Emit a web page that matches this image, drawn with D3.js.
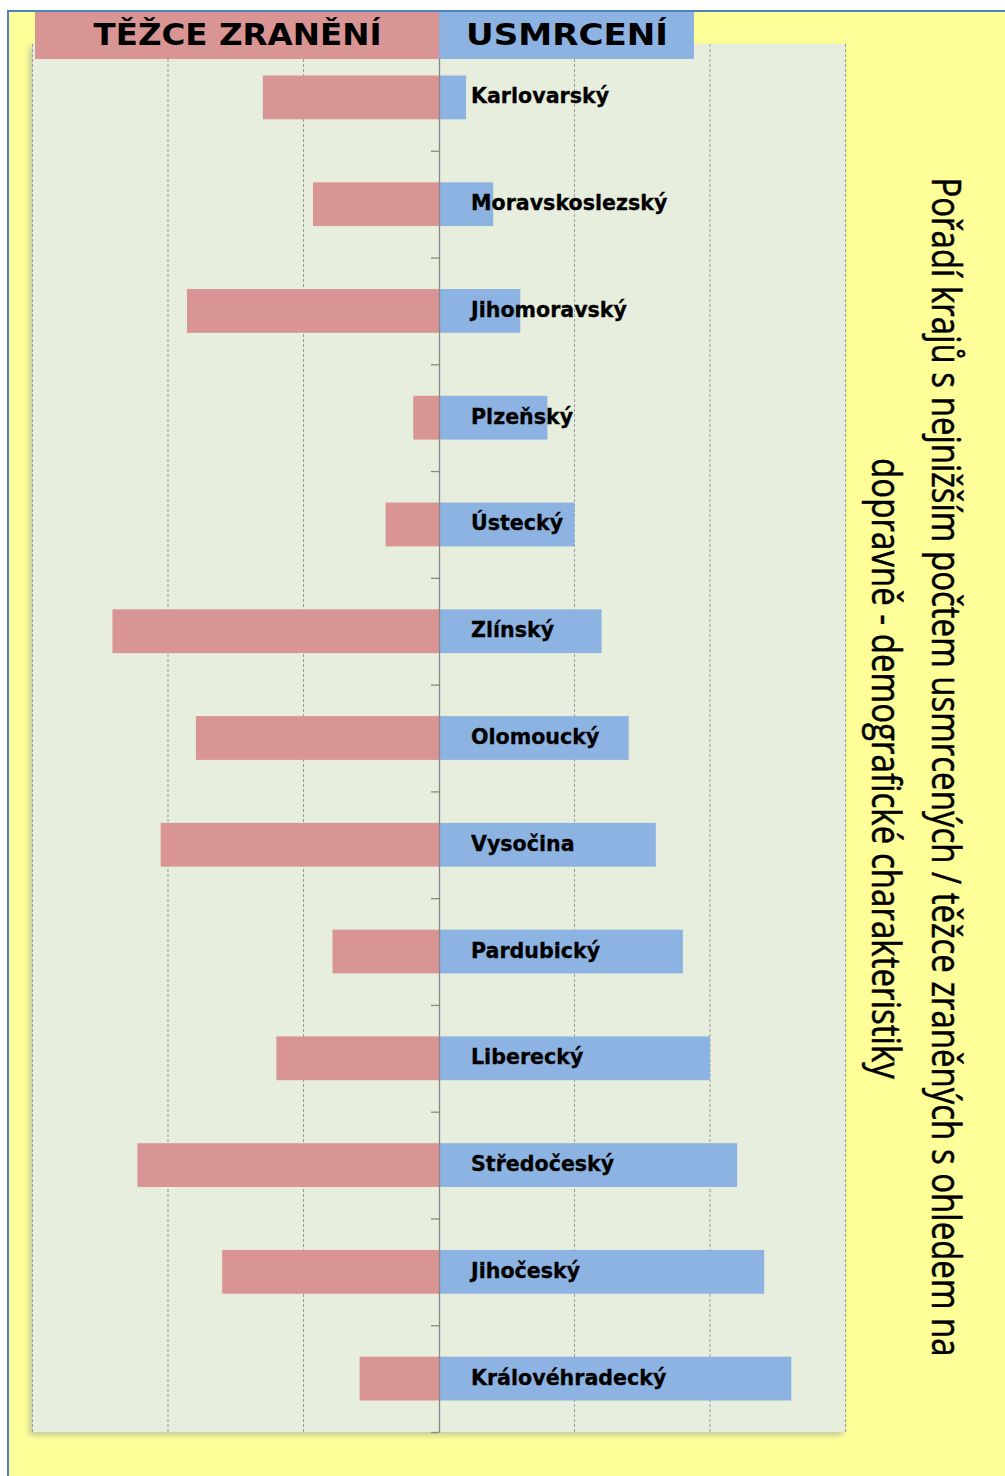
<!DOCTYPE html>
<html>
<head>
<meta charset="utf-8">
<script src="https://cdn.jsdelivr.net/npm/d3@7"></script>
<style>
  html, body { margin: 0; padding: 0; background: #ffffff; }
  svg { display: block; }
</style>
</head>
<body>
<div id="chart"></div>
<script>
// ---- data ----
const regions = ["Karlovarský", "Moravskoslezský", "Jihomoravský", "Plzeňský", "Ústecký", "Zlínský",
  "Olomoucký", "Vysočina", "Pardubický", "Liberecký", "Středočeský", "Jihočeský", "Královéhradecký"];
const killedRank = [1, 2, 3, 4, 5, 6, 7, 8, 9, 10, 11, 12, 13];
const injuredRank = [6.5, 4.65, 9.3, 0.95, 1.97, 12.05, 8.97, 10.27, 3.93, 6.0, 11.13, 8.0, 2.93];
const gridValues = [-15, -10, -5, 5, 10, 15];
const headerLabels = ["TĚŽCE ZRANĚNÍ", "USMRCENÍ"];
const titleLines = ["Pořadí krajů s nejnižším počtem usmrcených / těžce zraněných s ohledem na",
  "dopravně - demografické charakteristiky"];

// ---- layout ----
const W = 1005, H = 1476;
const plot = { left: 32.5, right: 845.5, top: 44, bottom: 1432 };
const colors = { yellow: "#FFFF99", plot: "#E7EEDD", red: "#D99594", blue: "#8DB3E2", border: "#4F81BD", grid: "#9A9A9A", axis: "#888888" };

const svg = d3.select("#chart").append("svg").attr("width", W).attr("height", H);

const defs = svg.append("defs");
const f = defs.append("filter").attr("id", "shadow").attr("x", "-5%").attr("y", "-5%").attr("width", "110%").attr("height", "110%");
f.append("feDropShadow").attr("dx", -3).attr("dy", 3).attr("stdDeviation", 3)
  .attr("flood-color", "#7f8a99").attr("flood-opacity", 0.5);

// background
svg.append("rect").attr("x", 0).attr("y", 0).attr("width", W).attr("height", H).attr("fill", "#ffffff");
svg.append("rect").attr("x", 9).attr("y", 12).attr("width", W - 9).attr("height", H - 12).attr("fill", colors.yellow);
svg.append("line").attr("x1", 8).attr("x2", W).attr("y1", 11).attr("y2", 11).attr("stroke", colors.border).attr("stroke-width", 2);
svg.append("line").attr("x1", 8).attr("x2", 8).attr("y1", 10).attr("y2", H).attr("stroke", colors.border).attr("stroke-width", 2);

// scales
const x = d3.scaleLinear().domain([-15, 15]).range([plot.left, plot.right]);
const y = d3.scaleBand().domain(regions).range([plot.top, plot.bottom]).paddingInner(0.59).paddingOuter(0.295);
const yEdge = d3.scaleLinear().domain([0, regions.length]).range([plot.top, plot.bottom]);

// plot area
svg.append("rect").attr("x", plot.left).attr("y", plot.top)
  .attr("width", plot.right - plot.left).attr("height", plot.bottom - plot.top)
  .attr("fill", colors.plot).attr("filter", "url(#shadow)");

// gridlines
svg.append("g").selectAll("line").data(gridValues).join("line")
  .attr("x1", d => x(d)).attr("x2", d => x(d))
  .attr("y1", plot.top).attr("y2", plot.bottom)
  .attr("stroke", colors.grid).attr("stroke-width", 1).attr("stroke-dasharray", "3,2");

// bars
svg.append("g").selectAll("rect").data(regions).join("rect")
  .attr("x", (d, i) => x(-injuredRank[i]))
  .attr("y", d => y(d))
  .attr("width", (d, i) => x(0) - x(-injuredRank[i]))
  .attr("height", y.bandwidth())
  .attr("fill", colors.red);

svg.append("g").selectAll("rect").data(regions).join("rect")
  .attr("x", x(0))
  .attr("y", d => y(d))
  .attr("width", (d, i) => x(killedRank[i]) - x(0))
  .attr("height", y.bandwidth())
  .attr("fill", colors.blue);

// category axis (ticks between categories)
const axisG = svg.append("g").attr("transform", `translate(${x(0)},0)`)
  .call(d3.axisLeft(yEdge).tickValues(d3.range(1, regions.length + 1)).tickSize(8).tickSizeOuter(0).tickFormat(""));
axisG.selectAll("path, line").attr("stroke", colors.axis).attr("stroke-width", 1.3);

// region labels
svg.append("g").selectAll("text").data(regions).join("text")
  .attr("x", x(0) + 32)
  .attr("y", d => y(d) + y.bandwidth() / 2 + 6)
  .attr("font-family", "DejaVu Sans, sans-serif")
  .attr("font-weight", "bold")
  .attr("font-size", 20.6)
  .attr("fill", "#000")
  .attr("stroke", "#000").attr("stroke-width", 0.3)
  .text(d => d);

// header boxes
const header = [
  { x0: 35, x1: x(0), fill: colors.red, len: 288 },
  { x0: x(0), x1: 694, fill: colors.blue, len: 202 }
];
const hg = svg.append("g");
hg.selectAll("rect").data(header).join("rect")
  .attr("x", d => d.x0).attr("y", 12).attr("width", d => d.x1 - d.x0).attr("height", 47)
  .attr("fill", d => d.fill);
hg.selectAll("text").data(header).join("text")
  .attr("x", d => (d.x0 + d.x1) / 2 + 0.5)
  .attr("y", 45)
  .attr("text-anchor", "middle")
  .attr("font-family", "DejaVu Sans, sans-serif")
  .attr("font-weight", "bold")
  .attr("font-size", 30)
  .attr("textLength", d => d.len)
  .attr("lengthAdjust", "spacingAndGlyphs")
  .attr("fill", "#000")
  .text((d, i) => headerLabels[i]);

// rotated title: measured, then scaled along the reading direction to the target length
const titlePos = [{ bx: 932, cy: 767, len: 1180 }, { bx: 872, cy: 768.5, len: 621 }];
const tg = svg.append("g");
tg.selectAll("text").data(titleLines).join("text")
  .attr("text-anchor", "middle")
  .attr("font-family", "Open Sans, sans-serif")
  .attr("font-size", 40)
  .attr("fill", "#000")
  .attr("stroke", "#000").attr("stroke-width", 0.5)
  .text(d => d)
  .each(function (d, i) {
    const L = this.getComputedTextLength();
    const s = titlePos[i].len / L;
    d3.select(this).attr("transform",
      `translate(${titlePos[i].bx},${titlePos[i].cy}) rotate(90) scale(${s},1)`);
  });
</script>
</body>
</html>
